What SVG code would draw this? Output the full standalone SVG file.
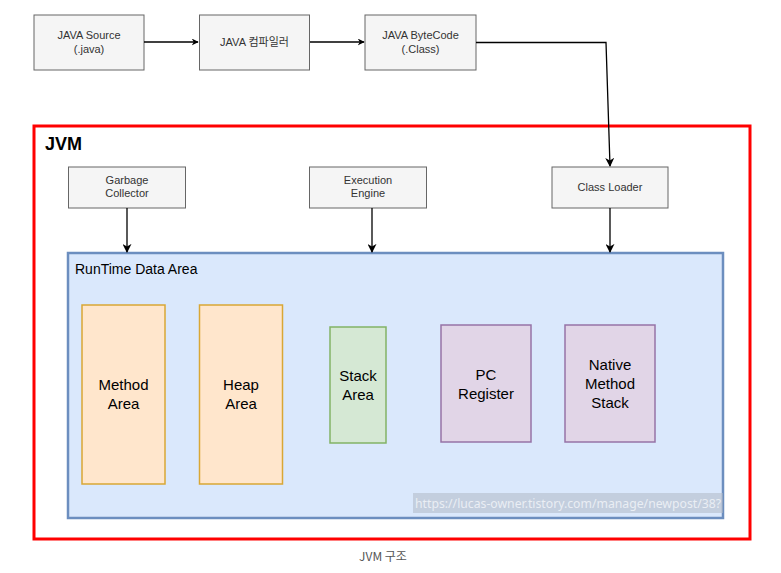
<svg xmlns="http://www.w3.org/2000/svg" width="781" height="573" viewBox="0 0 781 573">
<defs>
<marker id="ah" viewBox="0 0 10 10" refX="9" refY="5" markerWidth="7" markerHeight="7" markerUnits="userSpaceOnUse" orient="auto"><path d="M0,0 L10,5 L0,10 L3,5 Z" fill="#000"/></marker>
<marker id="ah2" viewBox="0 0 10 10" refX="9" refY="5" markerWidth="9" markerHeight="9" markerUnits="userSpaceOnUse" orient="auto"><path d="M0,0 L10,5 L0,10 L3,5 Z" fill="#000"/></marker>
</defs>
<style>
.gb{fill:#f5f5f5;stroke:#666;stroke-width:1}
.gt{font-family:"Liberation Sans","Noto Sans CJK KR",sans-serif;font-size:11px;fill:#333;text-anchor:middle}
.bt{font-family:"Liberation Sans",sans-serif;font-size:15px;fill:#000;text-anchor:middle}
.or{fill:#ffe6cc;stroke:#d9a735;stroke-width:1.5}
.gr{fill:#d5e8d4;stroke:#82b366;stroke-width:1.5}
.pu{fill:#e1d5e7;stroke:#9673a6;stroke-width:1.5}
.ln{fill:none;stroke:#000;stroke-width:1.3}
</style>
<rect width="781" height="573" fill="#fff"/>
<g id="jvm"><rect x="34" y="126" width="716" height="413" fill="none" stroke="#ff0000" stroke-width="3"/>
<text x="45" y="150" font-family="Liberation Sans,sans-serif" font-size="18" font-weight="bold">JVM</text></g>
<g id="runtime"><rect x="68" y="253" width="655" height="265" fill="#dae8fc" stroke="#6c8ebf" stroke-width="2.5"/>
<text x="75" y="274" font-family="Liberation Sans,sans-serif" font-size="14" fill="#000">RunTime Data Area</text></g>
<g id="src"><rect class="gb" x="34" y="15" width="110" height="55"/><text class="gt" x="89" y="39">JAVA Source</text><text class="gt" x="89" y="53">(.java)</text></g>
<g id="compiler"><rect class="gb" x="199.5" y="15" width="110" height="55"/><text class="gt" x="254.5" y="46">JAVA 컴파일러</text></g>
<g id="bytecode"><rect class="gb" x="365" y="15" width="111" height="55"/><text class="gt" x="420.5" y="39">JAVA ByteCode</text><text class="gt" x="420.5" y="53">(.Class)</text></g>
<g id="gc"><rect class="gb" x="68.5" y="167" width="117" height="41"/><text class="gt" x="127" y="184">Garbage</text><text class="gt" x="127" y="197">Collector</text></g>
<g id="ee"><rect class="gb" x="309.5" y="167" width="117" height="41"/><text class="gt" x="368" y="184">Execution</text><text class="gt" x="368" y="197">Engine</text></g>
<g id="cl"><rect class="gb" x="552" y="167" width="116" height="41"/><text class="gt" x="610" y="191">Class Loader</text></g>
<g id="method"><rect class="or" x="82" y="305" width="83" height="179"/><text class="bt" x="123.5" y="390">Method</text><text class="bt" x="123.5" y="409">Area</text></g>
<g id="heap"><rect class="or" x="199.5" y="305" width="83" height="179"/><text class="bt" x="241" y="390">Heap</text><text class="bt" x="241" y="409">Area</text></g>
<g id="stack"><rect class="gr" x="330" y="327" width="56" height="116"/><text class="bt" x="358" y="381">Stack</text><text class="bt" x="358" y="400">Area</text></g>
<g id="pc"><rect class="pu" x="441" y="325" width="90" height="117"/><text class="bt" x="486" y="380">PC</text><text class="bt" x="486" y="399">Register</text></g>
<g id="native"><rect class="pu" x="565" y="325" width="90" height="117"/><text class="bt" x="610" y="370">Native</text><text class="bt" x="610" y="389">Method</text><text class="bt" x="610" y="408">Stack</text></g>
<g id="connectors">
<path class="ln" d="M144,42 H198" marker-end="url(#ah)" stroke="#444"/>
<path class="ln" d="M310,42 H364" marker-end="url(#ah)" stroke="#444"/>
<path class="ln" d="M476,42.5 H606 L610,166" marker-end="url(#ah2)"/>
<path class="ln" d="M127,208 V252" marker-end="url(#ah2)"/>
<path class="ln" d="M372,208 V252" marker-end="url(#ah2)"/>
<path class="ln" d="M610,208 V252" marker-end="url(#ah2)"/>
</g>
<g id="watermark"><rect x="413" y="493" width="310" height="20" fill="#b0b8c4" opacity="0.55"/>
<text x="415" y="508" textLength="306" lengthAdjust="spacingAndGlyphs" font-family="Noto Sans,sans-serif" font-size="13" fill="#f4f6fa" opacity="0.8">https://lucas-owner.tistory.com/manage/newpost/38?</text></g>
<text x="383" y="561" text-anchor="middle" font-family="Noto Sans CJK KR,sans-serif" font-size="12" fill="#555">JVM 구조</text>
</svg>
